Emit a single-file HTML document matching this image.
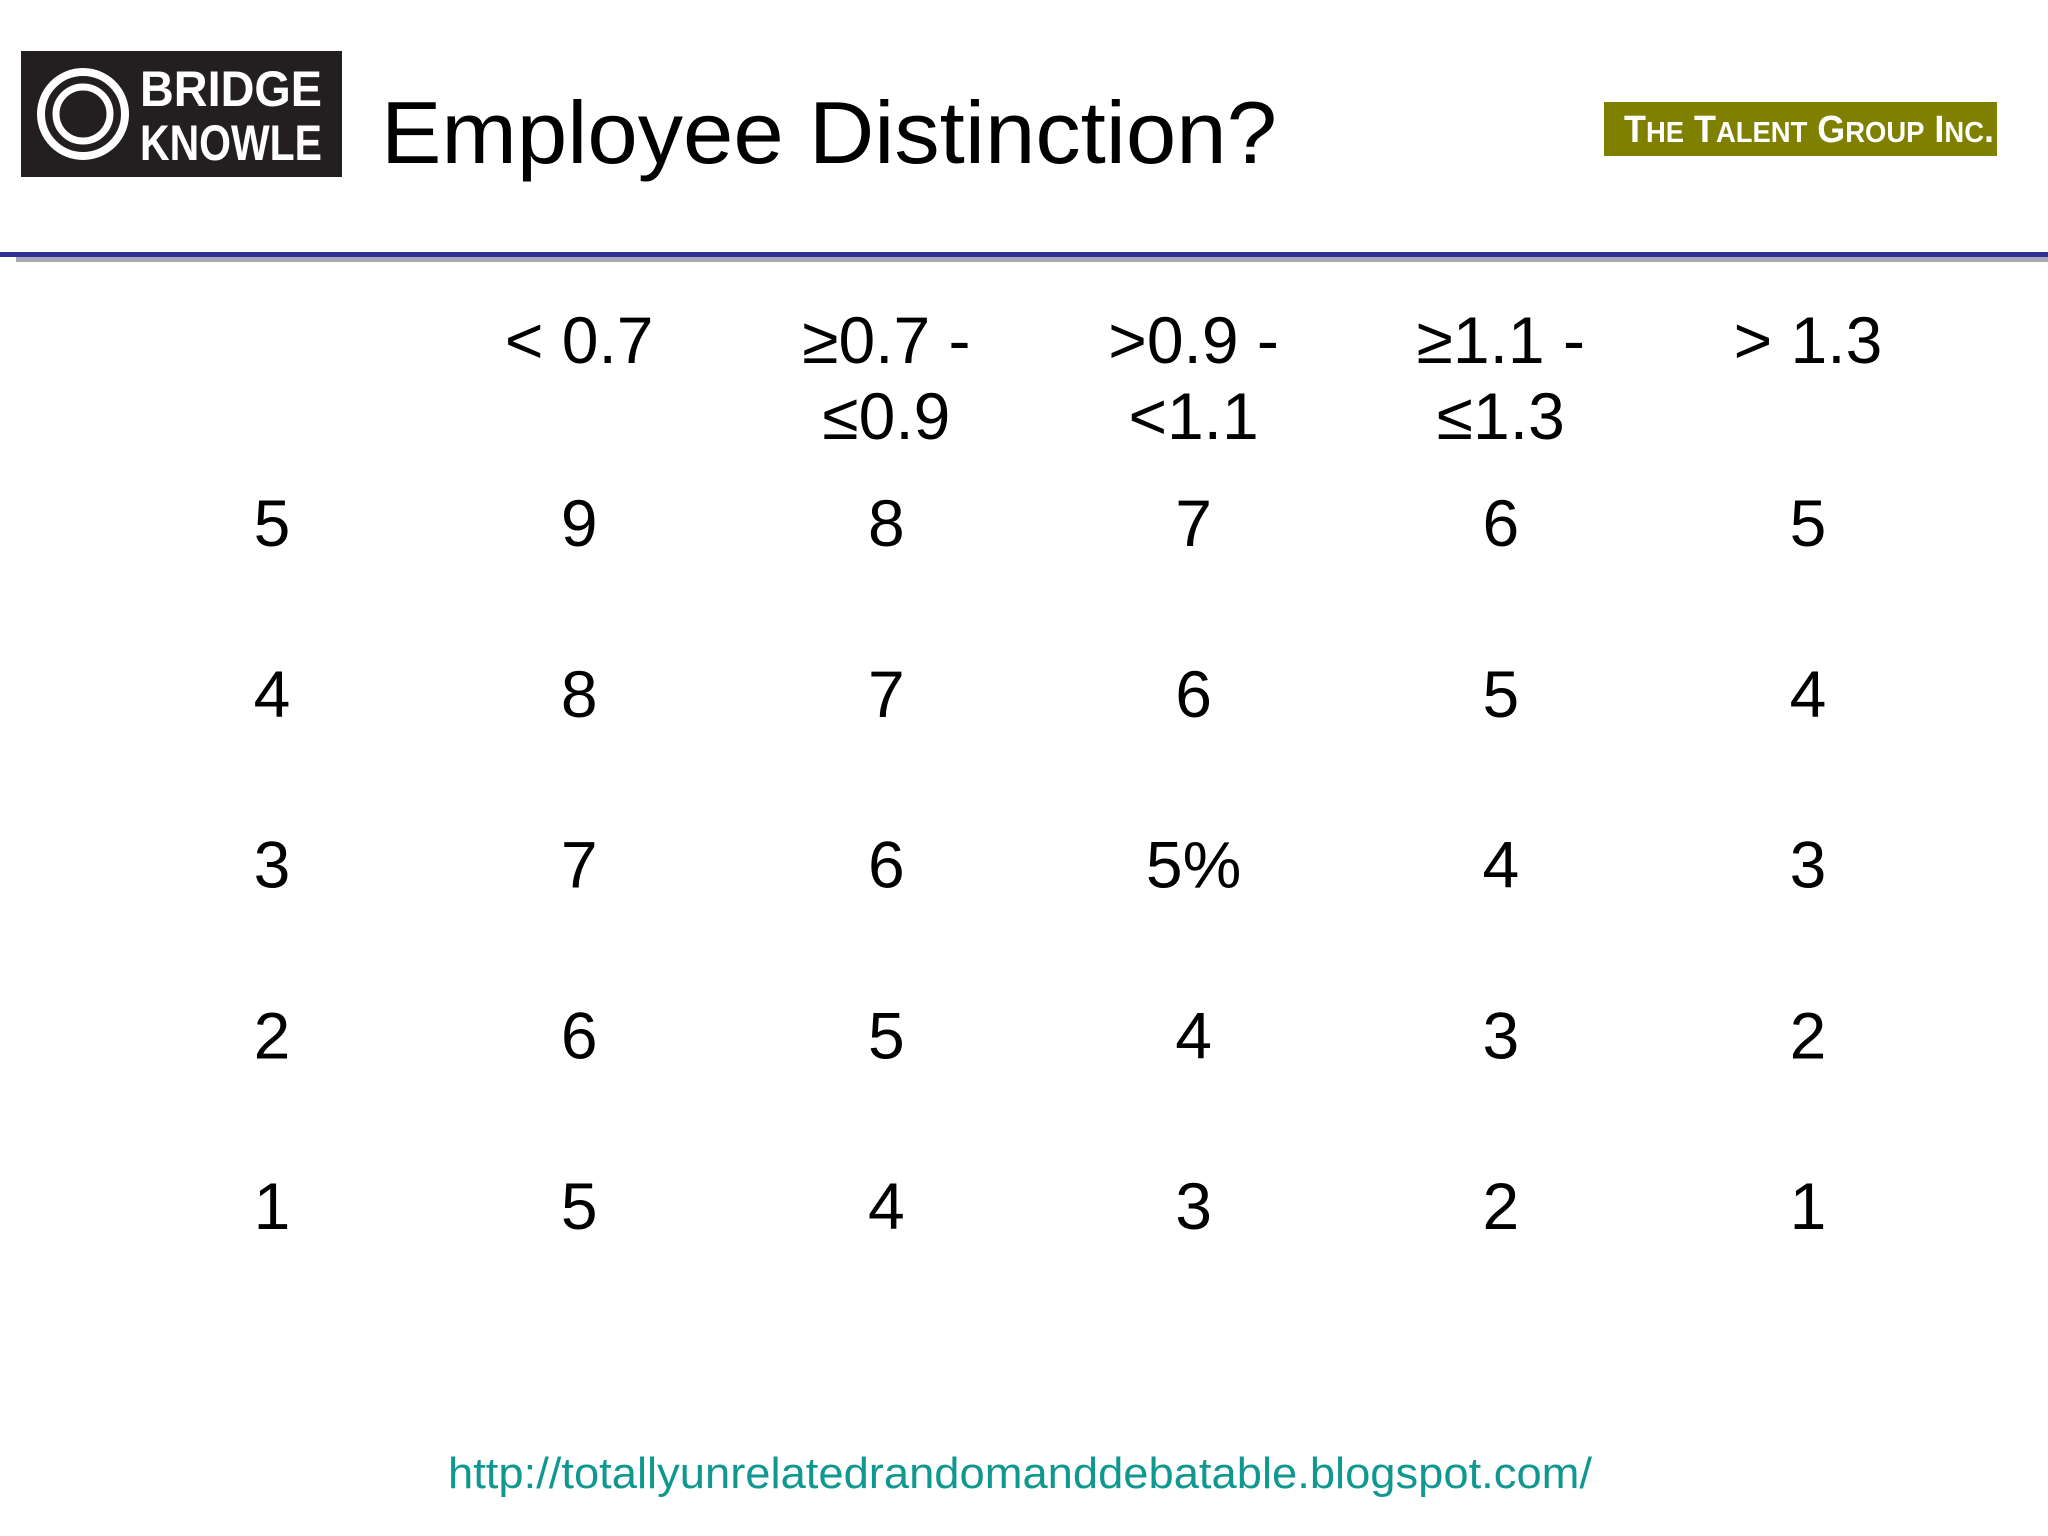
<!DOCTYPE html>
<html><head><meta charset="utf-8"><style>
html,body{margin:0;padding:0;background:#fff;}
svg{display:block;}
</style></head><body>
<svg id="s" width="2048" height="1536" viewBox="0 0 2048 1536" xmlns="http://www.w3.org/2000/svg" font-family="Liberation Sans, sans-serif">
<rect width="2048" height="1536" fill="#fff"/>
<g>
<rect x="21" y="51" width="321" height="126" fill="#231f20"/>
<circle cx="83" cy="114" r="42" fill="none" stroke="#fff" stroke-width="8"/>
<circle cx="83" cy="114" r="27" fill="none" stroke="#fff" stroke-width="7"/>
<text x="140" y="106" fill="#fff" font-size="50" font-weight="bold" textLength="182" lengthAdjust="spacingAndGlyphs">BRIDGE</text>
<text x="140" y="160" fill="#fff" font-size="50" font-weight="bold" textLength="182" lengthAdjust="spacingAndGlyphs">KNOWLE</text>
</g>
<text x="381" y="163" font-size="88" fill="#000" textLength="896" lengthAdjust="spacingAndGlyphs">Employee Distinction?</text>
<g>
<rect x="1604" y="102" width="393" height="54" fill="#808000"/>
<text x="1624" y="142" fill="#fff" font-size="38" font-weight="bold" textLength="370" lengthAdjust="spacingAndGlyphs">T<tspan font-size="29">HE</tspan> T<tspan font-size="29">ALENT</tspan> G<tspan font-size="29">ROUP</tspan> I<tspan font-size="29">NC</tspan>.</text>
</g>
<rect x="16" y="256" width="2032" height="6" fill="#a8a8b8"/>
<rect x="0" y="252" width="2048" height="5" fill="#2e3192"/>
<g id="tbl"></g>
<text x="448" y="1488" font-size="44" fill="#109890" textLength="1144" lengthAdjust="spacingAndGlyphs">http://totallyunrelatedrandomanddebatable.blogspot.com/</text>
</svg>
<script>
const headers1 = ["< 0.7", "≥0.7 -", ">0.9 -", "≥1.1 -", "> 1.3"];
const headers2 = ["", "≤0.9", "<1.1", "≤1.3", ""];
const rowLabels = ["5", "4", "3", "2", "1"];
const cells = [
  ["9","8","7","6","5"],
  ["8","7","6","5","4"],
  ["7","6","5%","4","3"],
  ["6","5","4","3","2"],
  ["5","4","3","2","1"]
];
const NS = "http://www.w3.org/2000/svg";
const g = document.getElementById("tbl");
const colX = i => 272 + i * 307.2;
const rowY = r => 546 + r * 170.75;
function t(x, y, s, name) {
  const e = document.createElementNS(NS, "text");
  e.setAttribute("x", x); e.setAttribute("y", y);
  e.setAttribute("text-anchor", "middle");
  e.setAttribute("font-size", "66");
  e.setAttribute("fill", "#000");
  e.textContent = s;
  
  
  g.appendChild(e);
}
headers1.forEach((h, i) => {
  t(colX(i + 1), 363, h, "column-header-" + (i + 1));
  if (headers2[i]) t(colX(i + 1), 439, headers2[i], "column-header-" + (i + 1) + "-line2");
});
rowLabels.forEach((l, r) => {
  t(colX(0), rowY(r), l, "row-label-" + l);
  cells[r].forEach((v, c) => t(colX(c + 1), rowY(r), v, "cell-r" + (r + 1) + "-c" + (c + 1)));
});
</script>
</body></html>
